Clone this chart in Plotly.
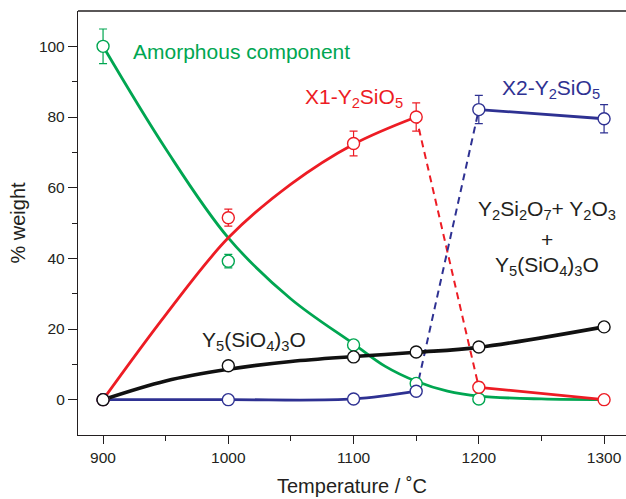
import plotly.graph_objects as go

# ---- measured data (markers) ----
temps = [900, 1000, 1100, 1150, 1200, 1300]

amorph_T = [900, 1000, 1100, 1150, 1200]
amorph = [100, 39.2, 15.5, 4.6, 0.2]
amorph_err = [4.9, 1.9, 1.2, 1.0, 0.4]

x1 = [0, 51.5, 72.5, 80, 3.5, 0]
x1_err = [0.4, 2.4, 3.5, 4.0, 1.4, 0.4]

x2 = [0, 0, 0.2, 2.4, 82.1, 79.5]
x2_err = [0, 0, 0, 0, 4.0, 4.0]

y5 = [0, 9.6, 12.1, 13.5, 14.9, 20.6]
y5_err = [0.4, 1.2, 1.2, 1.2, 1.2, 1.2]

# ---- fitted guide curves ----
amorph_fit_T = [900, 950, 1000, 1050, 1100, 1125, 1150, 1175, 1200, 1250, 1300]
amorph_fit = [100, 71, 45.8, 28.5, 15.8, 9.5, 5.2, 2.4, 1.0, 0.2, 0]

x1_fit_T = [900, 950, 1000, 1050, 1100, 1150]
x1_fit = [0, 24, 45.8, 61, 72.3, 80]
x1_drop_T = [1150, 1200]
x1_drop = [80, 3.5]
x1_tail_T = [1200, 1300]
x1_tail = [3.5, 0]

x2_fit_T = [900, 1000, 1100, 1150]
x2_fit = [0, 0, 0.2, 2.4]
x2_jump_T = [1150, 1200]
x2_jump = [2.4, 82.1]
x2_tail_T = [1200, 1300]
x2_tail = [82.1, 79.5]

y5_fit_T = [900, 950, 1000, 1050, 1100, 1150, 1200, 1300]
y5_fit = [0, 5.3, 8.6, 10.8, 12.2, 13.4, 14.8, 20.6]

GREEN = "#00A651"
RED = "#ED1C24"
BLUE = "#2E3192"
BLACK = "#111111"
TXT = "#231F20"
FONT = "Liberation Sans, Arial, sans-serif"

fig = go.Figure()

def curve(x, y, color, width, dash="solid", spline=True):
    fig.add_trace(go.Scatter(
        x=x, y=y, mode="lines",
        line=dict(color=color, width=width, dash=dash,
                  shape="spline" if spline else "linear", smoothing=1.0),
        hoverinfo="skip", showlegend=False))

curve(amorph_fit_T, amorph_fit, GREEN, 2.8)
curve(x1_fit_T, x1_fit, RED, 2.8)
curve(x1_drop_T, x1_drop, RED, 2.0, dash="7px,5px", spline=False)
curve(x1_tail_T, x1_tail, RED, 2.8, spline=False)
curve(x2_fit_T, x2_fit, BLUE, 2.8)
curve(x2_jump_T, x2_jump, BLUE, 2.0, dash="7px,5px", spline=False)
curve(x2_tail_T, x2_tail, BLUE, 2.8, spline=False)
curve(y5_fit_T, y5_fit, BLACK, 3.6)

def pts(x, y, err, color):
    fig.add_trace(go.Scatter(
        x=x, y=y, mode="markers",
        marker=dict(symbol="circle", size=12, color="white",
                    line=dict(color=color, width=1.4)),
        error_y=dict(type="data", array=err, visible=True,
                     color=color, thickness=1.2, width=4),
        hoverinfo="skip", showlegend=False))

pts(amorph_T, amorph, amorph_err, GREEN)
pts(temps, x1, x1_err, RED)
pts(temps, x2, x2_err, BLUE)
pts(temps, y5, y5_err, BLACK)

ann = [
    ("Amorphous component", 1010.5, 98.5, GREEN),
    ("X1-Y<sub>2</sub>SiO<sub>5</sub>", 1100, 85.3, RED),
    ("X2-Y<sub>2</sub>SiO<sub>5</sub>", 1258, 87.8, BLUE),
    ("Y<sub>2</sub>Si<sub>2</sub>O<sub>7</sub>+ Y<sub>2</sub>O<sub>3</sub>", 1254.5, 53.6, TXT),
    ("+", 1254.5, 45.3, TXT),
    ("Y<sub>5</sub>(SiO<sub>4</sub>)<sub>3</sub>O", 1254.5, 37.8, TXT),
    ("Y<sub>5</sub>(SiO<sub>4</sub>)<sub>3</sub>O", 1020.7, 16.6, TXT),
]
for text, x, y, c in ann:
    fig.add_annotation(x=x, y=y, text=text, showarrow=False,
                       xanchor="center", yanchor="middle",
                       font=dict(family=FONT, size=21, color=c))

# top frame line
fig.add_shape(type="line", xref="paper", yref="paper", x0=0, x1=1, y0=1, y1=1,
              line=dict(color=TXT, width=1.3))

fig.update_layout(
    width=626, height=499,
    margin=dict(l=78, r=0, t=11, b=64),
    paper_bgcolor="white", plot_bgcolor="white",
    font=dict(family=FONT, color=TXT),
    showlegend=False,
    xaxis=dict(
        range=[880, 1317.5], showgrid=False, zeroline=False,
        showline=True, linecolor=TXT, linewidth=1.3, mirror=False,
        tickmode="array", tickvals=[900, 1000, 1100, 1200, 1300],
        ticks="outside", ticklen=8, tickwidth=1.2, tickcolor=TXT,
        tickfont=dict(size=15.5, color=TXT, family=FONT),
        minor=dict(tickvals=[950, 1050, 1150, 1250], ticks="outside",
                   ticklen=5, tickwidth=1.2, tickcolor=TXT),
        title=dict(text="Temperature / ˚C", font=dict(size=20, color=TXT, family=FONT),
                   standoff=14),
    ),
    yaxis=dict(
        range=[-10, 110], showgrid=False, zeroline=False,
        showline=True, linecolor=TXT, linewidth=1.3, mirror=False,
        tickmode="array", tickvals=[0, 20, 40, 60, 80, 100],
        ticks="outside", ticklen=9, tickwidth=1.2, tickcolor=TXT,
        tickfont=dict(size=15.5, color=TXT, family=FONT),
        minor=dict(tickvals=[10, 30, 50, 70, 90], ticks="outside",
                   ticklen=5, tickwidth=1.2, tickcolor=TXT),
        title=dict(text="% weight", font=dict(size=20, color=TXT, family=FONT),
                   standoff=7),
    ),
)

fig.write_html(
    "out.html",
    config={"displayModeBar": False},
    post_script="document.body.style.margin='0';document.body.style.overflow='hidden';",
)
